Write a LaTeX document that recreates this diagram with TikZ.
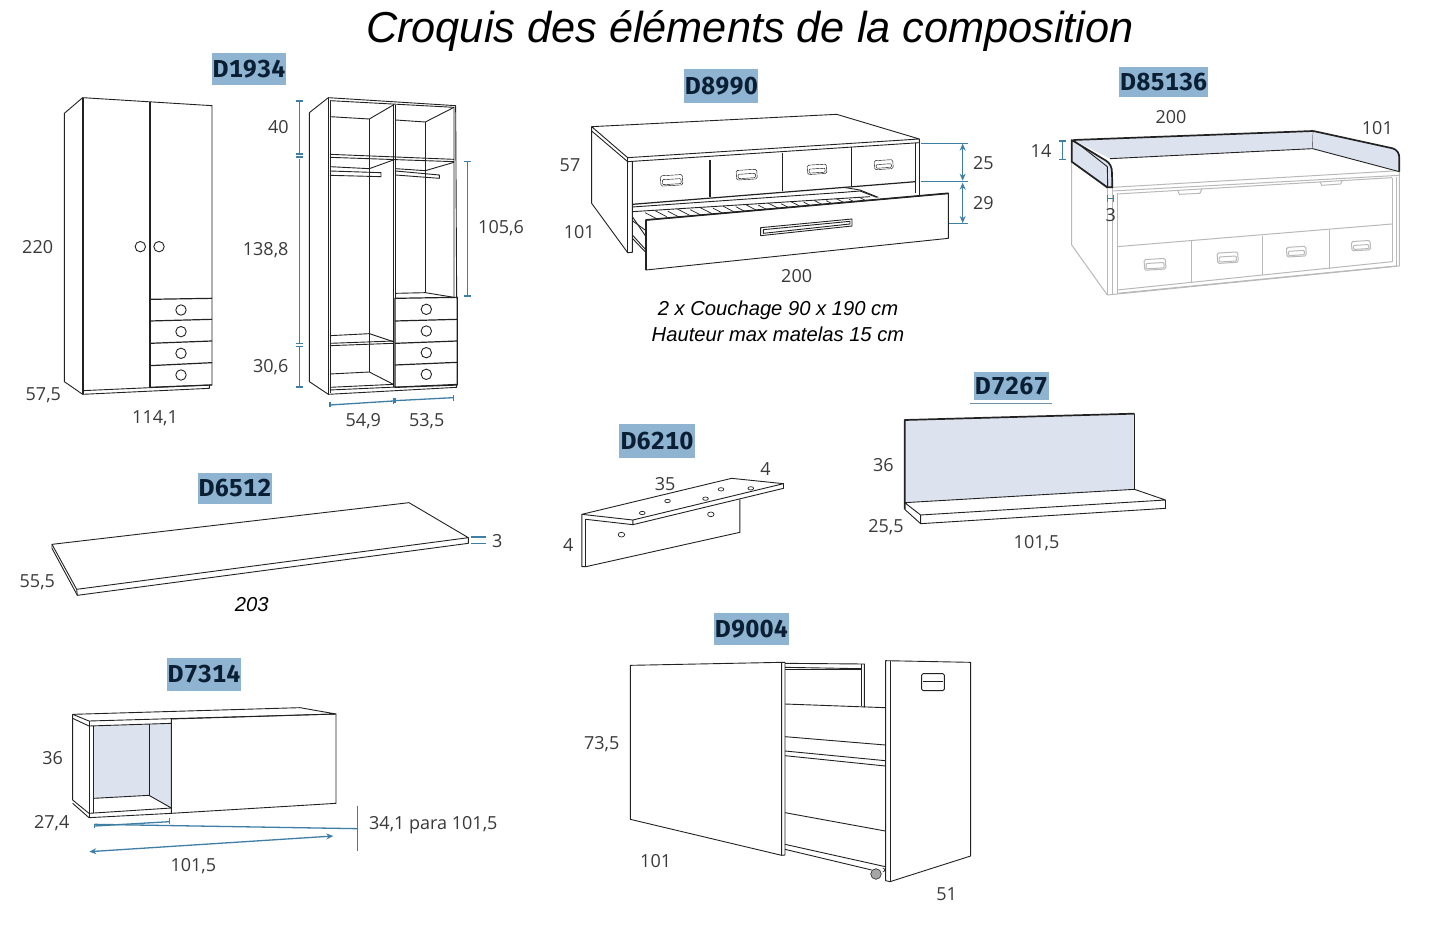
\documentclass[tikz,border=0pt]{standalone}
\usepackage{fontspec}
\setmainfont{Open Sans}
\newfontfamily\titlefont[ItalicFont={Liberation Sans Italic}]{Liberation Sans}
\newfontfamily\tagfont[LetterSpace=2,Numbers={Lining,Monospaced}]{Fira Sans}
\usetikzlibrary{arrows.meta}
\definecolor{tagblue}{HTML}{8FB4D2}
\definecolor{tagink}{HTML}{0A1F33}
\definecolor{dimblue}{HTML}{3F7FA6}
\definecolor{panelfill}{HTML}{DDE3EE}
\definecolor{ink}{HTML}{222222}
\definecolor{labelink}{HTML}{3A3A3A}
\definecolor{ghost}{HTML}{B9B9B9}
% draws one rounded pull: centre x, centre y, width, height, tilt
\newcommand{\pull}[5]{
	\begin{scope}[shift={(#1,#2)},rotate=#5]
		\draw[rounded corners=1.5pt] (-#3/2,-#4/2) rectangle (#3/2,#4/2);
		\draw[rounded corners=1pt] (-#3/2+5,-#4/2+12) rectangle (#3/2-5,#4/2-4);
	\end{scope}
}
\begin{document}
\begin{tikzpicture}[x=1pt, y=-1pt, line join=round,
	line/.style = {draw=ink, line width=0.9pt},
	heavy/.style = {draw=ink, line width=1.7pt},
	pale/.style = {draw=ghost, line width=1pt},
	dimline/.style = {draw=dimblue, line width=1.3pt},
	dimboth/.style = {dimline, {Stealth[length=7pt,width=6pt]}-{Stealth[length=7pt,width=6pt]}},
	lab/.style = {text=labelink, font=\fontsize{18}{20}\selectfont, inner sep=0pt},
	ital/.style = {text=black, font=\titlefont\itshape\fontsize{20.2}{22}\selectfont, inner sep=0pt},
	tagbox/.style = {fill=tagblue, text=tagink, font=\tagfont\bfseries\fontsize{24.5}{26}\selectfont, inner sep=0pt, minimum height=32pt},
	zoomed/.style = {x=0.33333pt, y=-0.33333pt},
	zoomwide/.style = {x=0.40816pt, y=-0.33333pt}]
	\useasboundingbox (0,0) rectangle (1442,934);
	\fill[white] (0,0) rectangle (1442,934);
	\node[text=black, font=\titlefont\itshape\fontsize{43.3}{46}\selectfont, inner sep=0pt] (title) at (750,31) {Croquis des éléments de la composition};

	% D1934 wardrobes
	\begin{scope}[shift={(0,50)}, zoomed]
		\node[tagbox, minimum width=74pt] (d1934) at (747,57) {D1934};
		\draw[line] (193,190) -- (248,143) -- (636,167) -- (636,1005) -- (628,1005) -- (628,1015) -- (248,1033) -- (193,995) -- cycle;
		\draw[heavy] (248,143) -- (248,1033);
		\draw[line] (248,1022) -- (628,1005);
		\draw[heavy] (449,155) -- (449,1012);
		\foreach \ya/\yb in {748/745, 813/808, 880/873, 947/938, 1012/1005}
			\draw[line, line width=1.2pt] (449,\ya) -- (636,\yb);
		\foreach \px/\py in {421/590, 477/590, 543/780, 543/845, 543/910, 543/975}
			\draw[line] (\px,\py) circle (5.2pt);
		\node[lab] (w220) at (113,590) {220};
		\node[lab] (w575) at (130,1035) {57,5};
		\node[lab] (w1141) at (465,1105) {114,1};

		\draw[line] (928,188) -- (985,143) -- (1367,167) -- (1370,745);
		\draw[line] (928,188) -- (928,995) -- (985,1033) -- (1370,1012) -- (1370,1003);
		\draw[line] (985,143) -- (985,1033);
		\draw[line] (990,152) -- (1362,172) -- (1362,745);
		\draw[line] (990,152) -- (990,1030);
		\draw[line] (1180,163) -- (1180,1010);
		\draw[line] (1187,165) -- (1187,745);
		\draw[line] (990,200) -- (1108,207) -- (1180,165);
		\draw[line] (1108,207) -- (1108,966);
		\draw[line] (1187,210) -- (1276,216) -- (1362,172);
		\draw[line] (1276,216) -- (1276,730);
		\draw[line] (990,313) -- (1362,328);
		\draw[line] (990,322) -- (1362,335);
		\draw[line] (990,350) -- (1108,356) -- (1180,330);
		\draw[line] (1187,356) -- (1276,362) -- (1362,337);
		\draw[line] (990,363) -- (1143,368) -- (1143,380) -- (990,376);
		\draw[line] (1187,363) -- (1318,375) -- (1318,385) -- (1187,375);
		\draw[line] (990,857) -- (1108,851) -- (1180,875);
		\draw[line] (990,880) -- (1180,873);
		\draw[line] (990,887) -- (1180,880);
		\draw[line] (990,972) -- (1108,966) -- (1180,1003);
		\draw[line] (990,1012) -- (1180,1003);
		\draw[line] (990,1020) -- (1370,1003);
		\draw[line] (1187,730) -- (1276,728) -- (1362,742);
		\draw[line, line width=1.2pt] (1185,745) -- (1372,742) -- (1372,1005) -- (1185,1012) -- cycle;
		\foreach \ya/\yb in {813/808, 880/873, 945/937}
			\draw[line, line width=1.2pt] (1185,\ya) -- (1372,\yb);
		\foreach \py in {778,843,908,973}
			\draw[line] (1279,\py) circle (5.2pt);
		\draw[dimline] (898,153) -- (898,312);
		\draw[dimline] (898,327) -- (898,880);
		\draw[dimline] (898,890) -- (898,1012);
		\foreach \py in {153,312,321,881,890,1011}
			\draw[dimline] (888,\py) -- (908,\py);
		\draw[dimline] (1402,335) -- (1402,738);
		\draw[dimline] (1392,335) -- (1412,335);
		\draw[dimline] (1392,738) -- (1412,738);
		\draw[dimline] (990,1065) -- (1180,1053);
		\draw[dimline] (1185,1052) -- (1360,1043);
		\draw[dimline] (990,1056) -- (990,1072);
		\draw[dimline] (1180,1044) -- (1180,1062);
		\draw[dimline] (1185,1044) -- (1185,1060);
		\draw[dimline] (1360,1036) -- (1360,1052);
		\node[lab] (s40) at (835,230) {40};
		\node[lab] (s1388) at (797,600) {138,8};
		\node[lab] (s306) at (812,950) {30,6};
		\node[lab] (s549) at (1090,1112) {54,9};
		\node[lab] (s535) at (1280,1112) {53,5};
	\end{scope}
	\node[lab] (s1056) at (501,228) {105,6};

	% D8990 bed
	\begin{scope}[shift={(550,60)}, zoomed]
		\node[tagbox, minimum width=74pt, minimum height=34pt] (d8990) at (514,78) {D8990};
		\draw[line] (125,200) -- (860,163) -- (1108,237) -- (233,293) -- cycle;
		\draw[line] (125,200) -- (125,430) -- (233,578) -- (247,577) -- (247,305);
		\draw[line] (125,213) -- (233,305) -- (1108,248) -- (1108,237);
		\draw[line] (233,293) -- (233,578);
		\draw[line] (1097,250) -- (1097,400);
		\draw[line] (1108,248) -- (1108,405);
		\draw[line, line width=1.2pt] (247,433) -- (1097,365);
		\draw[line] (247,441) -- (880,397) -- (930,393) -- (980,412);
		\draw[line] (880,382) -- (930,390) -- (985,412);
		\foreach \px/\ya/\yb in {480/300/412, 698/280/393, 905/262/378}
			\draw[line, line width=1.2pt] (\px,\ya) -- (\px,\yb);
		\pull{365}{361}{66}{31}{3.5}
		\pull{590}{344}{62}{29}{3.5}
		\pull{801}{328}{58}{28}{3.5}
		\pull{1001}{314}{56}{27}{3.5}
		\draw[line] (247,455) -- (960,410);
		\foreach \i in {0,...,9} {
			\draw[line, line width=0.7pt] ({285+\i*68},{458-\i*4.5}) -- ({320+\i*68},{476-\i*4.5});
			\draw[line, line width=0.7pt] ({315+\i*68},{452-\i*4.5}) -- ({350+\i*68},{470-\i*4.5});
		}
		\draw[line] (247,470) -- (288,530);
		\draw[line] (247,482) -- (288,512);
		\draw[line] (247,525) -- (288,570);
		\draw[line] (247,535) -- (288,578);
		\draw[line, fill=white] (288,480) -- (1195,400) -- (1195,535) -- (288,630) -- cycle;
		\draw[heavy] (288,630) -- (288,480) -- (1195,400);
		\draw[line] (632,503) -- (906,477) -- (906,498) -- (632,527) -- cycle;
		\draw[line] (640,509) -- (900,484) -- (900,492) -- (640,520) -- cycle;
		\draw[dimline] (1112,250) -- (1255,250);
		\draw[dimline] (1112,365) -- (1255,365);
		\draw[dimline] (1197,490) -- (1255,490);
		\draw[dimboth] (1238,251) -- (1238,362);
		\draw[dimboth] (1238,368) -- (1238,489);
		\node[lab] (b25) at (1300,308) {25};
		\node[lab] (b29) at (1300,428) {29};
		\node[lab] (b57) at (60,315) {57};
		\node[lab] (b101) at (88,517) {101};
		\node[lab] (b200) at (740,648) {200};
		\node[ital] (couchage) at (684,750) {2 x Couchage 90 x 190 cm};
		\node[ital] (matelas) at (684,823) {Hauteur max matelas 15 cm};
	\end{scope}

	% D85136 back rail
	\begin{scope}[shift={(1020,60)}, zoomed]
		\node[tagbox, minimum width=89pt, minimum height=29pt] (d85136) at (431,66) {D85136};
		\begin{scope}[pale]
			\draw[pale] (155,305) -- (155,555) -- (262,705) -- (1138,618) -- (1138,332);
			\draw[pale] (155,305) -- (262,385);
			\draw[pale] (262,385) -- (262,705);
			\draw[pale] (277,385) -- (277,705);
			\draw[pale] (291,400) -- (291,700);
			\draw[pale] (291,690) -- (1116,605);
			\draw[pale] (291,700) -- (1128,618);
			\draw[pale] (1128,350) -- (1128,618);
			\draw[pale] (1116,355) -- (1116,605);
			\draw[pale] (277,382) -- (1138,332);
			\draw[pale] (277,393) -- (1138,346);
			\draw[pale] (291,402) -- (1116,353);
			\draw[pale] (291,560) -- (1116,492);
			\draw[pale] (515,542) -- (515,665);
			\draw[pale] (728,527) -- (728,645);
			\draw[pale] (928,510) -- (928,628);
			\draw[pale] (472,390) -- (478,403) -- (540,400) -- (546,385);
			\draw[pale] (900,365) -- (905,376) -- (962,372) -- (968,360);
			\pull{405}{613}{64}{32}{3.5}
			\pull{623}{593}{62}{31}{3.5}
			\pull{829}{575}{58}{29}{3.5}
			\pull{1023}{557}{56}{28}{3.5}
		\end{scope}
		\fill[panelfill] (160,240) -- (880,213) -- (878,266) -- (270,296) -- cycle;
		\draw[heavy] (160,240) -- (880,213);
		\draw[line] (270,296) -- (878,266) -- (880,213);
		\draw[fill=panelfill, draw=none] (880,213) -- (1118,265) .. controls (1132,270) and (1138,280) .. (1138,295) -- (1138,335) -- (878,266) -- cycle;
		\draw[heavy] (880,213) -- (1118,265) .. controls (1132,270) and (1138,280) .. (1138,295) -- (1138,335);
		\draw[line] (878,266) -- (1138,335);
		\draw[fill=panelfill, draw=none] (155,240) -- (258,302) .. controls (270,310) and (276,320) .. (276,340) -- (277,382) -- (262,382) -- (155,305) -- cycle;
		\draw[heavy] (155,305) -- (155,240) -- (258,302) .. controls (270,310) and (276,320) .. (276,340) -- (277,382) -- (262,382) -- cycle;
		\draw[line] (160,240) -- (262,320) -- (263,382);
		\draw[dimline] (127,243) -- (127,298);
		\draw[dimline] (117,243) -- (137,243);
		\draw[dimline] (117,298) -- (137,298);
		\draw[dimline] (263,405) -- (263,425);
		\draw[dimline] (281,405) -- (281,425);
		\draw[dimline] (263,415) -- (281,415);
		\node[lab] (r200) at (453,170) {200};
		\node[lab] (r101) at (1072,205) {101};
		\node[lab] (r14) at (63,272) {14};
		\node[lab] (r3) at (272,465) {3};
	\end{scope}

	% D6210 bracket and D7267 shelf
	\begin{scope}[shift={(550,370)}, zoomwide]
		\node[tagbox, minimum width=76pt, minimum height=34pt] (d6210) at (262,213) {D6210};
		\draw[line] (78,433) -- (445,325) -- (572,341) -- (203,450) -- cycle;
		\draw[line] (203,450) -- (203,464) -- (572,355) -- (572,341);
		\draw[line] (88,448) -- (203,464);
		\draw[line] (78,433) -- (78,590) -- (88,590) -- (465,487) -- (465,388);
		\draw[line] (88,448) -- (88,590);
		\foreach \px/\py in {226/429, 288/393, 381/386, 419/358, 492/355}
			\draw[line, line width=0.7pt] (\px,\py) ellipse (7 and 5);
		\foreach \px/\py in {394/433, 175/494}
			\draw[line, line width=0.7pt] (\px,\py) ellipse (8 and 7);
		\node[lab] (k35) at (282,342) {35};
		\node[lab] (k4a) at (528,298) {4};
		\node[lab] (k4b) at (45,525) {4};

		\node[tagbox, minimum width=75pt, minimum height=28pt] (d7267) at (1130,48) {D7267};
		\draw[dimline, draw=tagblue!80!black] (1030,100) -- (1230,100);
		\fill[panelfill] (869,150) -- (1432,131) -- (1432,358) -- (869,398) -- cycle;
		\draw[heavy] (869,418) -- (869,150) -- (1432,131);
		\draw[line] (1432,131) -- (1432,358);
		\draw[line] (869,398) -- (1432,358) -- (1508,390) -- (908,435) -- cycle;
		\draw[line] (908,435) -- (908,461) -- (1508,415) -- (1508,390);
		\draw[line] (869,418) -- (908,461);
		\node[lab] (p36) at (817,285) {36};
		\node[lab] (p255) at (823,472) {25,5};
		\node[lab] (p1015) at (1192,520) {101,5};
	\end{scope}

	% D6512 top
	\begin{scope}[shift={(0,465)}, zoomed]
		\node[tagbox, minimum width=74pt, minimum height=31pt] (d6512) at (705,70) {D6512};
		\draw[line] (156,238) -- (1227,113) -- (1405,218) -- (230,373) -- cycle;
		\draw[line] (230,373) -- (232,391) -- (1405,235) -- (1405,218);
		\draw[line] (156,238) -- (156,250) -- (232,391);
		\draw[dimline] (1412,216) -- (1458,216);
		\draw[dimline] (1412,236) -- (1458,236);
		\node[lab] (t3) at (1492,228) {3};
		\node[lab] (t555) at (112,352) {55,5};
		\node[ital] (t203) at (755,418) {203};
	\end{scope}

	% D7314 wall unit
	\begin{scope}[shift={(0,650)}, zoomed]
		\node[tagbox, minimum width=74pt, minimum height=33pt] (d7314) at (612,73) {D7314};
		\fill[panelfill] (281,228) -- (514,220) -- (514,474) -- (447,436) -- (281,445) -- cycle;
		\draw[line] (218,193) -- (900,173) -- (1008,192) -- (267,213) -- cycle;
		\draw[line] (218,193) -- (218,450) -- (267,490);
		\draw[line] (218,205) -- (267,228) -- (514,220);
		\draw[line] (267,213) -- (267,503);
		\draw[line] (281,228) -- (281,490);
		\draw[line] (218,460) -- (267,503) -- (514,490);
		\draw[line] (267,490) -- (514,474);
		\draw[line] (447,222) -- (447,436);
		\draw[line] (281,445) -- (447,436) -- (514,474);
		\draw[line] (514,207) -- (1008,192) -- (1008,460) -- (514,490) -- cycle;
		\draw[dimline] (284,528) -- (509,515);
		\draw[dimline] (284,521) -- (284,535);
		\draw[dimline] (509,505) -- (509,522);
		\draw[dimline] (284,523) -- (1072,536);
		\draw[dimline] (1072,468) -- (1072,602);
		\draw[dimboth] (268,605) -- (1000,558);
		\node[lab] (u36) at (158,325) {36};
		\node[lab] (u274) at (155,520) {27,4};
		\node[lab] (u341) at (1300,525) {34,1 para 101,5};
		\node[lab] (u1015) at (580,648) {101,5};
	\end{scope}

	% D9004 pull-out bed
	\begin{scope}[shift={(570,610)}, zoomed]
		\node[tagbox, minimum width=75pt, minimum height=32pt] (d9004) at (544,58) {D9004};
		\draw[line] (645,160) -- (883,162) -- (883,292);
		\draw[line] (873,162) -- (873,288);
		\draw[line] (645,172) -- (873,176);
		\draw[line] (645,178) -- (873,178);
		\draw[line] (645,282) -- (946,293);
		\draw[line] (645,380) -- (946,405);
		\draw[line] (645,423) -- (946,452);
		\draw[line] (645,437) -- (946,468);
		\draw[line] (645,608) -- (946,663);
		\draw[line] (645,703) -- (946,770);
		\draw[line] (645,718) -- (905,780);
		\draw[line, line width=0.6pt, fill=gray!70] (918,792) circle (5.3pt);
		\draw[line, line width=0.6pt] (938,786) arc (90:-90:6);
		\draw[line, fill=white] (181,166) -- (635,157) -- (635,736) -- (181,628) -- cycle;
		\draw[line] (635,157) -- (645,157) -- (645,735) -- (635,736);
		\draw[line, fill=white] (947,152) -- (1202,157) -- (1202,738) -- (960,815) -- (947,812) -- cycle;
		\draw[line] (960,152) -- (960,815);
		\draw[line, rounded corners=1.5pt] (1055,191) rectangle (1123,242);
		\draw[line] (1060,214) -- (1118,214);
		\node[lab] (m735) at (95,402) {73,5};
		\node[lab] (m101) at (257,752) {101};
		\node[lab] (m51) at (1130,852) {51};
	\end{scope}
\end{tikzpicture}
\end{document}
